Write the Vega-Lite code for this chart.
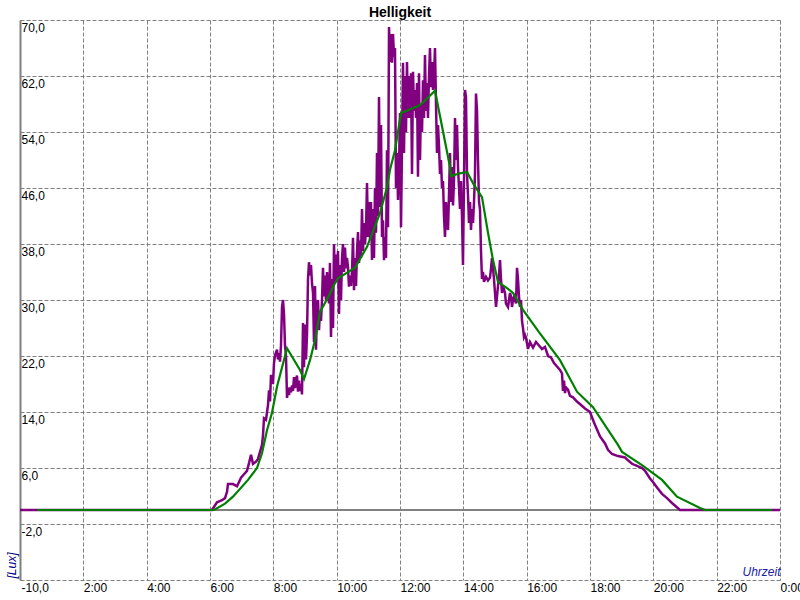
{
"$schema": "https://vega.github.io/schema/vega-lite/v6.json",
"width": 760, "height": 560,
"autosize": {"type": "none"},
"padding": {"left": 20, "top": 20, "right": 20, "bottom": 20},
"background": "white",
"title": {"text": "Helligkeit", "fontSize": 14, "fontWeight": "bold", "font": "Liberation Sans, Arial, sans-serif", "color": "black", "anchor": "middle", "frame": "group", "offset": 0},
"config": {"view": {"stroke": null}},
"data": {"values": [
{"s":"z","h":0,"v":0},{"s":"z","h":24,"v":0},
{"s":"p","h":0,"v":0},{"s":"p","h":6.063,"v":0},{"s":"p","h":6.221,"v":1.1},{"s":"p","h":6.379,"v":1.4},{"s":"p","h":6.474,"v":1.7},{"s":"p","h":6.537,"v":2.6},{"s":"p","h":6.568,"v":3.7},{"s":"p","h":6.726,"v":3.7},{"s":"p","h":6.853,"v":3.4},{"s":"p","h":6.916,"v":4.0},{"s":"p","h":6.979,"v":4.6},{"s":"p","h":7.074,"v":5.1},{"s":"p","h":7.168,"v":5.6},{"s":"p","h":7.232,"v":6.7},{"s":"p","h":7.295,"v":7.9},{"s":"p","h":7.358,"v":6.6},{"s":"p","h":7.453,"v":6.9},{"s":"p","h":7.516,"v":7.3},{"s":"p","h":7.579,"v":8.3},{"s":"p","h":7.642,"v":9.3},{"s":"p","h":7.674,"v":10.7},{"s":"p","h":7.705,"v":13.1},{"s":"p","h":7.768,"v":12.9},{"s":"p","h":7.832,"v":15.0},{"s":"p","h":7.863,"v":17.1},{"s":"p","h":7.895,"v":15.5},{"s":"p","h":7.926,"v":19.3},{"s":"p","h":7.989,"v":18.0},{"s":"p","h":8.021,"v":21.0},{"s":"p","h":8.053,"v":22.1},{"s":"p","h":8.116,"v":22.9},{"s":"p","h":8.147,"v":21.5},{"s":"p","h":8.179,"v":22.4},{"s":"p","h":8.211,"v":21.2},{"s":"p","h":8.242,"v":23.5},{"s":"p","h":8.274,"v":29.0},{"s":"p","h":8.305,"v":30.0},{"s":"p","h":8.337,"v":28.0},{"s":"p","h":8.368,"v":23.5},{"s":"p","h":8.400,"v":22.0},{"s":"p","h":8.432,"v":16.0},{"s":"p","h":8.463,"v":17.5},{"s":"p","h":8.495,"v":16.4},{"s":"p","h":8.526,"v":17.5},{"s":"p","h":8.558,"v":16.8},{"s":"p","h":8.589,"v":17.8},{"s":"p","h":8.621,"v":17.0},{"s":"p","h":8.653,"v":19.0},{"s":"p","h":8.684,"v":17.4},{"s":"p","h":8.716,"v":18.5},{"s":"p","h":8.747,"v":19.2},{"s":"p","h":8.779,"v":16.9},{"s":"p","h":8.811,"v":18.5},{"s":"p","h":8.842,"v":17.0},{"s":"p","h":8.874,"v":18.0},{"s":"p","h":8.905,"v":16.5},
{"s":"p","h":8.937,"v":26.7},{"s":"p","h":8.968,"v":20.4},{"s":"p","h":9.000,"v":26.5},{"s":"p","h":9.032,"v":21.5},{"s":"p","h":9.063,"v":25.0},{"s":"p","h":9.095,"v":33.0},{"s":"p","h":9.126,"v":35.4},{"s":"p","h":9.158,"v":33.5},{"s":"p","h":9.189,"v":35.0},{"s":"p","h":9.221,"v":32.4},{"s":"p","h":9.253,"v":31.0},{"s":"p","h":9.284,"v":24.0},{"s":"p","h":9.316,"v":32.0},{"s":"p","h":9.347,"v":22.9},{"s":"p","h":9.379,"v":29.0},{"s":"p","h":9.411,"v":30.0},{"s":"p","h":9.442,"v":25.7},{"s":"p","h":9.474,"v":28.5},{"s":"p","h":9.505,"v":27.0},{"s":"p","h":9.537,"v":30.0},{"s":"p","h":9.568,"v":34.6},{"s":"p","h":9.600,"v":30.5},{"s":"p","h":9.632,"v":33.5},{"s":"p","h":9.663,"v":30.0},{"s":"p","h":9.695,"v":34.0},{"s":"p","h":9.726,"v":31.0},{"s":"p","h":9.758,"v":29.5},{"s":"p","h":9.789,"v":35.3},{"s":"p","h":9.821,"v":24.7},{"s":"p","h":9.853,"v":33.0},{"s":"p","h":9.884,"v":26.0},{"s":"p","h":9.916,"v":38.0},{"s":"p","h":9.947,"v":32.4},{"s":"p","h":9.979,"v":36.5},{"s":"p","h":10.011,"v":33.0},{"s":"p","h":10.042,"v":37.0},{"s":"p","h":10.074,"v":28.0},{"s":"p","h":10.105,"v":35.0},{"s":"p","h":10.137,"v":30.0},{"s":"p","h":10.168,"v":36.0},{"s":"p","h":10.200,"v":38.0},{"s":"p","h":10.232,"v":34.0},{"s":"p","h":10.263,"v":37.5},{"s":"p","h":10.295,"v":34.5},{"s":"p","h":10.326,"v":36.0},{"s":"p","h":10.358,"v":34.7},{"s":"p","h":10.389,"v":31.9},{"s":"p","h":10.421,"v":33.5},{"s":"p","h":10.453,"v":32.0},{"s":"p","h":10.484,"v":34.0},{"s":"p","h":10.516,"v":38.9},{"s":"p","h":10.547,"v":31.4},{"s":"p","h":10.579,"v":36.0},{"s":"p","h":10.611,"v":32.0},{"s":"p","h":10.642,"v":37.0},{"s":"p","h":10.674,"v":39.7},{"s":"p","h":10.705,"v":35.3},{"s":"p","h":10.737,"v":38.5},{"s":"p","h":10.768,"v":36.0},{"s":"p","h":10.800,"v":43.0},{"s":"p","h":10.832,"v":37.0},{"s":"p","h":10.863,"v":41.0},{"s":"p","h":10.895,"v":38.0},{"s":"p","h":10.926,"v":40.0},{"s":"p","h":10.958,"v":46.7},{"s":"p","h":10.989,"v":39.0},{"s":"p","h":11.021,"v":44.0},{"s":"p","h":11.053,"v":38.6},{"s":"p","h":11.084,"v":44.0},{"s":"p","h":11.116,"v":35.7},{"s":"p","h":11.147,"v":43.0},{"s":"p","h":11.179,"v":36.0},{"s":"p","h":11.211,"v":46.0},{"s":"p","h":11.242,"v":39.6},{"s":"p","h":11.274,"v":51.0},{"s":"p","h":11.305,"v":42.0},{"s":"p","h":11.337,"v":59.0},{"s":"p","h":11.368,"v":43.3},{"s":"p","h":11.400,"v":55.0},{"s":"p","h":11.432,"v":39.0},{"s":"p","h":11.463,"v":41.4},{"s":"p","h":11.495,"v":35.7},{"s":"p","h":11.526,"v":39.0},{"s":"p","h":11.558,"v":36.0},{"s":"p","h":11.589,"v":51.4},{"s":"p","h":11.621,"v":40.4},{"s":"p","h":11.653,"v":69.0},{"s":"p","h":11.684,"v":64.0},{"s":"p","h":11.716,"v":68.0},{"s":"p","h":11.747,"v":63.9},{"s":"p","h":11.779,"v":68.0},{"s":"p","h":11.811,"v":64.7},{"s":"p","h":11.842,"v":66.0},{"s":"p","h":11.874,"v":46.0},{"s":"p","h":11.905,"v":51.0},{"s":"p","h":11.937,"v":44.3},{"s":"p","h":11.968,"v":49.0},{"s":"p","h":12.000,"v":56.7},{"s":"p","h":12.032,"v":40.4},{"s":"p","h":12.063,"v":52.0},{"s":"p","h":12.095,"v":63.9},{"s":"p","h":12.126,"v":51.0},{"s":"p","h":12.158,"v":62.0},{"s":"p","h":12.189,"v":54.0},{"s":"p","h":12.221,"v":64.0},{"s":"p","h":12.253,"v":56.0},{"s":"p","h":12.284,"v":62.0},{"s":"p","h":12.316,"v":56.0},{"s":"p","h":12.347,"v":62.4},{"s":"p","h":12.379,"v":48.0},{"s":"p","h":12.411,"v":62.6},{"s":"p","h":12.442,"v":57.0},{"s":"p","h":12.474,"v":60.0},{"s":"p","h":12.505,"v":56.0},{"s":"p","h":12.537,"v":61.0},{"s":"p","h":12.568,"v":47.6},{"s":"p","h":12.600,"v":62.4},{"s":"p","h":12.632,"v":50.0},{"s":"p","h":12.663,"v":58.0},{"s":"p","h":12.695,"v":54.0},{"s":"p","h":12.726,"v":61.4},{"s":"p","h":12.758,"v":56.0},{"s":"p","h":12.789,"v":65.0},{"s":"p","h":12.821,"v":57.0},{"s":"p","h":12.853,"v":61.0},{"s":"p","h":12.884,"v":56.0},{"s":"p","h":12.916,"v":62.0},{"s":"p","h":12.947,"v":66.0},{"s":"p","h":12.979,"v":60.4},{"s":"p","h":13.011,"v":64.0},{"s":"p","h":13.042,"v":60.0},
{"s":"p","h":13.074,"v":62.0},{"s":"p","h":13.105,"v":66.0},{"s":"p","h":13.137,"v":58.0},{"s":"p","h":13.168,"v":51.0},{"s":"p","h":13.200,"v":55.0},{"s":"p","h":13.232,"v":52.0},{"s":"p","h":13.263,"v":48.0},{"s":"p","h":13.295,"v":50.0},{"s":"p","h":13.326,"v":46.0},{"s":"p","h":13.358,"v":47.0},{"s":"p","h":13.389,"v":42.0},{"s":"p","h":13.421,"v":39.0},{"s":"p","h":13.453,"v":44.0},{"s":"p","h":13.484,"v":41.0},{"s":"p","h":13.516,"v":40.0},{"s":"p","h":13.547,"v":45.0},{"s":"p","h":13.579,"v":51.0},{"s":"p","h":13.611,"v":44.0},{"s":"p","h":13.642,"v":49.0},{"s":"p","h":13.674,"v":43.5},{"s":"p","h":13.705,"v":47.0},{"s":"p","h":13.737,"v":56.0},{"s":"p","h":13.768,"v":50.0},{"s":"p","h":13.800,"v":55.0},{"s":"p","h":13.832,"v":49.0},{"s":"p","h":13.863,"v":46.0},{"s":"p","h":13.895,"v":43.0},{"s":"p","h":13.926,"v":47.0},{"s":"p","h":13.958,"v":42.0},{"s":"p","h":13.989,"v":35.0},{"s":"p","h":14.021,"v":47.0},{"s":"p","h":14.053,"v":60.0},{"s":"p","h":14.084,"v":59.0},{"s":"p","h":14.116,"v":48.0},{"s":"p","h":14.147,"v":45.0},{"s":"p","h":14.179,"v":41.0},{"s":"p","h":14.211,"v":44.0},{"s":"p","h":14.242,"v":40.0},{"s":"p","h":14.274,"v":43.0},{"s":"p","h":14.305,"v":41.0},{"s":"p","h":14.337,"v":44.0},{"s":"p","h":14.368,"v":48.0},{"s":"p","h":14.400,"v":59.5},{"s":"p","h":14.432,"v":57.0},{"s":"p","h":14.463,"v":50.0},{"s":"p","h":14.495,"v":44.0},{"s":"p","h":14.526,"v":43.0},{"s":"p","h":14.558,"v":37.0},{"s":"p","h":14.589,"v":33.0},{"s":"p","h":14.621,"v":34.0},{"s":"p","h":14.653,"v":32.6},{"s":"p","h":14.716,"v":33.3},{"s":"p","h":14.779,"v":32.8},{"s":"p","h":14.842,"v":33.2},{"s":"p","h":14.874,"v":34.5},{"s":"p","h":14.905,"v":36.0},{"s":"p","h":14.937,"v":34.5},{"s":"p","h":14.968,"v":33.0},{"s":"p","h":15.000,"v":31.0},{"s":"p","h":15.032,"v":29.0},{"s":"p","h":15.063,"v":30.5},{"s":"p","h":15.095,"v":32.0},{"s":"p","h":15.126,"v":33.5},{"s":"p","h":15.158,"v":35.7},{"s":"p","h":15.189,"v":33.0},{"s":"p","h":15.221,"v":31.0},{"s":"p","h":15.253,"v":32.0},{"s":"p","h":15.316,"v":31.0},{"s":"p","h":15.347,"v":29.5},{"s":"p","h":15.411,"v":29.0},{"s":"p","h":15.442,"v":30.0},{"s":"p","h":15.474,"v":31.0},{"s":"p","h":15.505,"v":30.5},{"s":"p","h":15.537,"v":29.0},{"s":"p","h":15.568,"v":30.0},{"s":"p","h":15.600,"v":30.5},{"s":"p","h":15.632,"v":30.0},{"s":"p","h":15.663,"v":29.5},{"s":"p","h":15.695,"v":34.6},{"s":"p","h":15.726,"v":33.0},{"s":"p","h":15.758,"v":30.5},{"s":"p","h":15.789,"v":29.0},{"s":"p","h":15.821,"v":30.0},{"s":"p","h":15.853,"v":27.0},{"s":"p","h":15.884,"v":26.0},{"s":"p","h":15.916,"v":24.7},{"s":"p","h":15.947,"v":25.0},{"s":"p","h":15.979,"v":24.6},{"s":"p","h":16.042,"v":23.0},{"s":"p","h":16.105,"v":24.0},{"s":"p","h":16.200,"v":23.2},{"s":"p","h":16.295,"v":24.0},{"s":"p","h":16.389,"v":23.5},{"s":"p","h":16.484,"v":23.0},{"s":"p","h":16.579,"v":23.3},{"s":"p","h":16.674,"v":22.0},{"s":"p","h":16.768,"v":21.8},{"s":"p","h":16.863,"v":21.0},{"s":"p","h":16.958,"v":20.5},{"s":"p","h":17.053,"v":20.0},{"s":"p","h":17.116,"v":19.5},{"s":"p","h":17.147,"v":17.0},{"s":"p","h":17.179,"v":18.5},{"s":"p","h":17.211,"v":16.7},{"s":"p","h":17.242,"v":17.5},{"s":"p","h":17.305,"v":17.2},{"s":"p","h":17.368,"v":16.3},{"s":"p","h":17.463,"v":16.1},{"s":"p","h":17.589,"v":15.5},{"s":"p","h":17.716,"v":15.0},{"s":"p","h":17.842,"v":14.5},{"s":"p","h":18.000,"v":14.0},{"s":"p","h":18.126,"v":12.5},{"s":"p","h":18.316,"v":10.5},{"s":"p","h":18.474,"v":9.5},{"s":"p","h":18.568,"v":8.6},{"s":"p","h":18.695,"v":8.0},{"s":"p","h":18.884,"v":7.7},{"s":"p","h":19.105,"v":7.5},{"s":"p","h":19.200,"v":7.1},{"s":"p","h":19.326,"v":6.6},{"s":"p","h":19.484,"v":6.3},{"s":"p","h":19.642,"v":6.0},{"s":"p","h":19.737,"v":5.6},{"s":"p","h":19.895,"v":4.5},{"s":"p","h":19.989,"v":4.0},{"s":"p","h":20.116,"v":3.2},{"s":"p","h":20.274,"v":2.3},{"s":"p","h":20.432,"v":1.7},{"s":"p","h":20.589,"v":1.0},{"s":"p","h":20.716,"v":0.5},{"s":"p","h":20.842,"v":0},{"s":"p","h":24,"v":0},
{"s":"g","h":0.54,"v":0},{"s":"g","h":6.126,"v":0},{"s":"g","h":6.474,"v":0.9},{"s":"g","h":6.726,"v":1.9},{"s":"g","h":7.2,"v":4.3},{"s":"g","h":7.484,"v":6.0},{"s":"g","h":7.642,"v":8.1},{"s":"g","h":7.8,"v":11.4},{"s":"g","h":7.958,"v":13.9},{"s":"g","h":8.116,"v":17.6},{"s":"g","h":8.432,"v":23.1},{"s":"g","h":8.842,"v":20.0},{"s":"g","h":8.968,"v":18.7},{"s":"g","h":9.158,"v":21.4},{"s":"g","h":9.316,"v":24.3},{"s":"g","h":9.474,"v":28.3},{"s":"g","h":9.789,"v":30.9},{"s":"g","h":9.884,"v":31.9},{"s":"g","h":10.042,"v":33.1},{"s":"g","h":10.579,"v":34.6},{"s":"g","h":10.958,"v":37.6},{"s":"g","h":11.368,"v":42.4},{"s":"g","h":11.589,"v":46.1},{"s":"g","h":11.684,"v":48.6},{"s":"g","h":11.842,"v":51.4},{"s":"g","h":12.032,"v":56.7},{"s":"g","h":12.568,"v":57.7},{"s":"g","h":12.695,"v":58.1},{"s":"g","h":13.105,"v":59.9},{"s":"g","h":13.579,"v":49.0},{"s":"g","h":13.611,"v":47.7},{"s":"g","h":13.895,"v":48.1},{"s":"g","h":14.116,"v":48.3},{"s":"g","h":14.305,"v":46.7},{"s":"g","h":14.589,"v":44.7},{"s":"g","h":14.779,"v":39.6},{"s":"g","h":14.937,"v":35.7},{"s":"g","h":15.095,"v":32.6},{"s":"g","h":15.411,"v":31.6},{"s":"g","h":15.568,"v":31.0},{"s":"g","h":15.884,"v":28.6},{"s":"g","h":16.389,"v":25.4},{"s":"g","h":17.053,"v":21.4},{"s":"g","h":17.589,"v":16.9},{"s":"g","h":18.095,"v":14.7},{"s":"g","h":18.884,"v":9.3},{"s":"g","h":19.011,"v":8.3},{"s":"g","h":19.642,"v":6.4},{"s":"g","h":20.274,"v":4.3},{"s":"g","h":20.747,"v":1.9},{"s":"g","h":21.474,"v":0.3},{"s":"g","h":21.632,"v":0},{"s":"g","h":23.747,"v":0}
]},
"encoding": {
  "x": {"field": "h", "type": "quantitative", "scale": {"domain": [0, 24], "nice": false, "zero": false},
    "axis": {"title": "Uhrzeit", "values": [0,2,4,6,8,10,12,14,16,18,20,22,24],
      "labelExpr": "datum.value == 0 ? '' : (datum.value == 24 ? '0:00' : datum.value + ':00')",
      "grid": true, "gridDash": [4, 2], "gridColor": "#808080", "gridOpacity": 1, "gridWidth": 1,
      "domain": false, "ticks": false, "labelAlign": "left", "labelBaseline": "top", "labelPadding": 2,
      "labelFlush": false, "labelOverlap": false, "labelBound": false,
      "labelFont": "Liberation Sans Narrow, Liberation Sans, Arial, sans-serif", "labelFontSize": 12, "labelColor": "black",
      "titleFont": "Liberation Sans, Arial, sans-serif", "titleFontStyle": "italic", "titleFontWeight": "normal", "titleFontSize": 12,
      "titleColor": "#2020a0", "titleAlign": "right", "titleBaseline": "bottom", "titleX": 760, "titleY": -2}},
  "y": {"field": "v", "type": "quantitative", "scale": {"domain": [-10, 70], "nice": false, "zero": false},
    "axis": {"title": "[Lux]", "values": [-10,-2,6,14,22,30,38,46,54,62,70],
      "labelExpr": "(datum.value < 0 ? '-' : '') + replace(format(abs(datum.value), '.1f'), '.', ',')",
      "grid": true, "gridDash": [4, 2], "gridColor": "#808080", "gridOpacity": 1, "gridWidth": 1,
      "domain": true, "domainColor": "#808080", "domainWidth": 2, "ticks": false,
      "labelAlign": "left", "labelBaseline": "top", "labelPadding": -1, "labelOffset": 2,
      "labelFlush": false, "labelOverlap": false, "labelBound": false,
      "labelFont": "Liberation Sans Narrow, Liberation Sans, Arial, sans-serif", "labelFontSize": 12, "labelColor": "black",
      "titleFont": "Liberation Sans, Arial, sans-serif", "titleFontStyle": "italic", "titleFontWeight": "normal", "titleFontSize": 12,
      "titleColor": "#000080", "titleAngle": -90, "titleAlign": "left", "titleBaseline": "bottom", "titleX": -2, "titleY": 558}}
},
"layer": [
  {"transform": [{"filter": "datum.s == 'z'"}], "mark": {"type": "line", "color": "#808080", "strokeWidth": 2}, "encoding": {}},
  {"transform": [{"filter": "datum.s == 'p'"}], "mark": {"type": "line", "color": "#800080", "strokeWidth": 2.5}, "encoding": {}},
  {"transform": [{"filter": "datum.s == 'g'"}], "mark": {"type": "line", "color": "#008000", "strokeWidth": 2.2}, "encoding": {}}
]
}
